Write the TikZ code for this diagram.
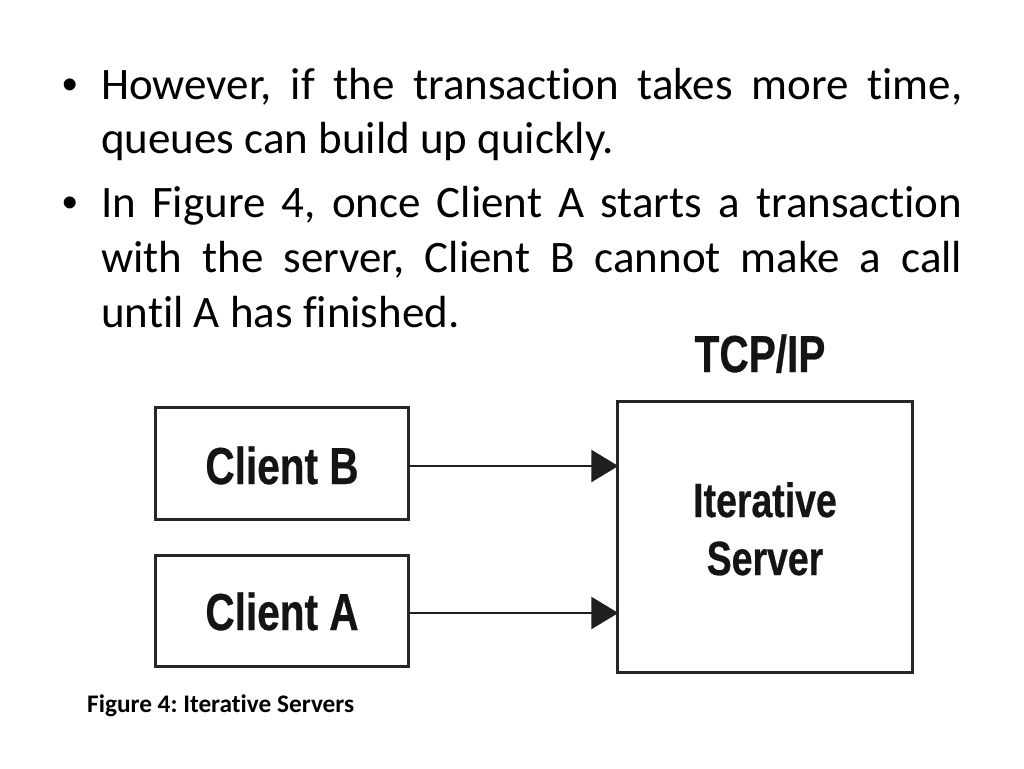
\documentclass[tikz,border=0pt]{standalone}
\usepackage{fontspec}
\setmainfont{Carlito}[Ligatures={NoCommon}]
\newfontfamily\diagfont{Liberation Sans}
\newfontfamily\diagheavy{Liberation Sans Bold}[FakeBold=0.6]
\usetikzlibrary{arrows.meta}
\frenchspacing
\tikzset{
  bodytxt/.style={anchor=base west, inner sep=0pt, font=\fontsize{45}{54}\selectfont, text=black},
  bul/.style={anchor=base, inner sep=0pt, font=\diagfont\fontsize{44}{54}\selectfont, text=black},
  boxed/.style={draw=black!85, line width=3pt, inner sep=0pt},
  dlabel/.style={inner sep=0pt, anchor=base, text=black!92},
  conn/.style={draw=black!88, line width=2.6pt, -{Triangle[length=27pt,width=32pt]}, shorten >=-1.5pt},
}
\newcommand{\dtext}[2]{\scalebox{0.78}[1]{\diagheavy\fontsize{#1}{#1}\selectfont #2}}
\begin{document}
\begin{tikzpicture}[x=1pt,y=-1pt]
\useasboundingbox (0,0) rectangle (1024,768);
\fill[white] (0,0) rectangle (1024,768);

% bullets
\node[bul] (b1) at (70,99) {•};
\node[bul] (b2) at (70,217) {•};
% text lines
\node[bodytxt] (l1) at (101,99) {\makebox[861pt][s]{However, if the transaction takes more time,}};
\node[bodytxt] (l2) at (101,153) {queues can build up quickly.};
\node[bodytxt] (l3) at (101,217) {\makebox[861pt][s]{In Figure 4, once Client A starts a transaction}};
\node[bodytxt] (l4) at (101,272) {\makebox[861pt][s]{with the server, Client B cannot make a call}};
\node[bodytxt] (l5) at (101,327) {until A has finished.};

% diagram boxes
\draw[boxed] (155,407) rectangle (408,519);
\draw[boxed] (155,555) rectangle (408,666);
\draw[boxed] (617,401) rectangle (912,672);
\node[minimum width=253pt, minimum height=112pt, inner sep=0pt] (clientB) at (281.5,463) {};
\node[minimum width=253pt, minimum height=111pt, inner sep=0pt] (clientA) at (281.5,610.5) {};
\node[minimum width=295pt, minimum height=271pt, inner sep=0pt] (server) at (764.5,536.5) {};

\node[dlabel] (lb) at (282,484) {\dtext{52}{Client B}};
\node[dlabel] (la) at (282,630) {\dtext{52}{Client A}};
\node[dlabel] (tcp) at (760,372) {\dtext{52}{TCP/IP}};
\node[dlabel] (it) at (765,517) {\dtext{48}{Iterative}};
\node[dlabel] (sv) at (765,575) {\dtext{48}{Server}};

% connectors
\draw[conn] (clientB.east |- 0,466) -- (server.west |- 0,466);
\draw[conn] (clientA.east |- 0,613) -- (server.west |- 0,613);

% caption
\node[anchor=base west, inner sep=0pt, font=\fontsize{25.3}{30}\selectfont\bfseries] (cap) at (87,712) {Figure 4: Iterative Servers};
\end{tikzpicture}
\end{document}
